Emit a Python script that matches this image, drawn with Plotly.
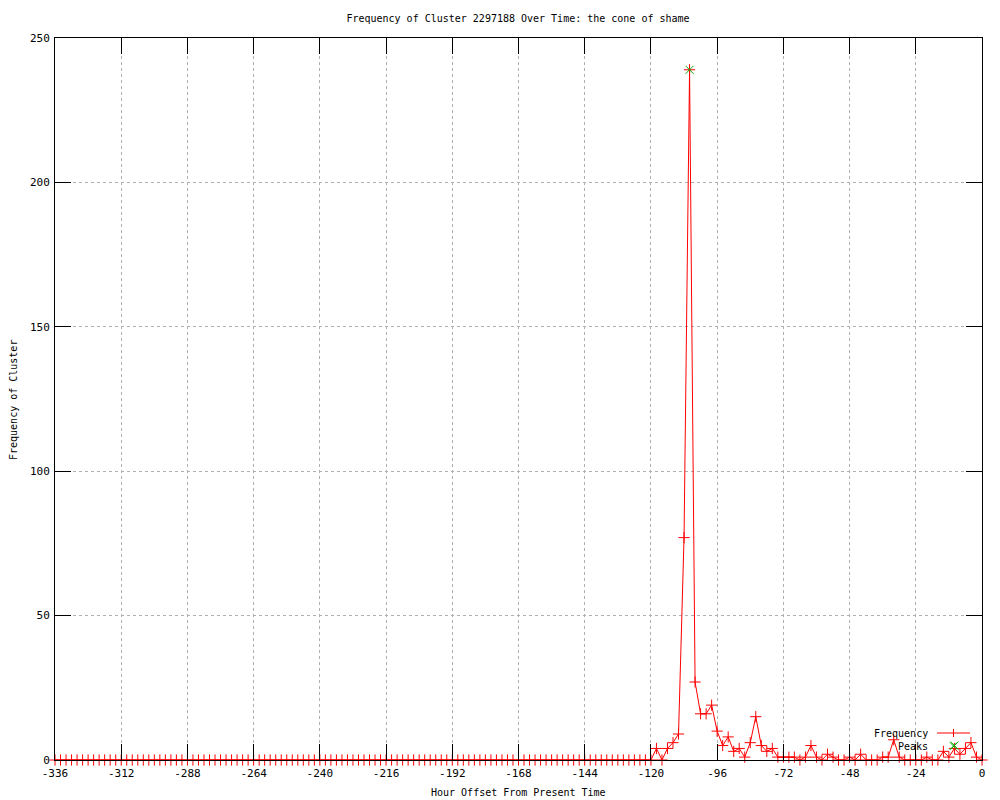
import plotly.graph_objects as go

# ---- data ----
hours = list(range(-336, 1, 2))  # every 2 hours

freq_early = [
    0, 0, 0, 0, 0, 0, 0, 0, 0, 0, 0, 0,   # -336 .. -314
    0, 0, 0, 0, 0, 0, 0, 0, 0, 0, 0, 0,   # -312 .. -290
    0, 0, 0, 0, 0, 0, 0, 0, 0, 0, 0, 0,   # -288 .. -266
    0, 0, 0, 0, 0, 0, 0, 0, 0, 0, 0, 0,   # -264 .. -242
    0, 0, 0, 0, 0, 0, 0, 0, 0, 0, 0, 0,   # -240 .. -218
    0, 0, 0, 0, 0, 0, 0, 0, 0, 0, 0, 0,   # -216 .. -194
    0, 0, 0, 0, 0, 0, 0, 0, 0, 0, 0, 0,   # -192 .. -170
    0, 0, 0, 0, 0, 0, 0, 0, 0, 0, 0, 0,   # -168 .. -146
    0, 0, 0, 0, 0, 0, 0, 0, 0, 0, 0, 0,   # -144 .. -122
]
freq_late = [
    0, 4, 0, 4, 6, 9, 77, 239, 27, 16, 16, 19, 10,   # -120 .. -96
    5, 8, 3, 4, 1, 6, 15, 5, 3, 4, 1, 1,             # -94 .. -72
    1, 1, 0, 1, 5, 1, 0, 2, 1, 0, 0, 1,              # -70 .. -48
    0, 2, 0, 0, 0, 1, 1, 7, 1, 0, 0, 0,              # -46 .. -24
    0, 1, 0, 0, 3, 1, 4, 2, 4, 6, 1, 0,              # -22 .. 0
]
frequency = freq_early + freq_late

peak_hours = [-106, -10]
peak_values = [239, 5]

x_tickvals = [-336, -312, -288, -264, -240, -216, -192, -168, -144, -120, -96, -72, -48, -24, 0]
y_tickvals = [0, 50, 100, 150, 200, 250]

title_text = "Frequency of Cluster 2297188 Over Time: the cone of shame"
x_title = "Hour Offset From Present Time"
y_title = "Frequency of Cluster"

FONT = "DejaVu Sans Mono"
RED = "#ff0000"
GREEN = "#00b000"

fig = go.Figure()
fig.add_trace(go.Scatter(
    x=hours, y=frequency, mode="lines+markers", name="Frequency",
    line=dict(color=RED, width=1),
    marker=dict(symbol="cross-thin", size=8, color=RED, line=dict(color=RED, width=1)),
    cliponaxis=False, showlegend=False,
))
fig.add_trace(go.Scatter(
    x=peak_hours, y=peak_values, mode="markers", name="Peaks",
    marker=dict(symbol="x-thin", size=8, color=GREEN, line=dict(color=GREEN, width=1)),
    cliponaxis=False, showlegend=False,
))

axis_common = dict(
    showline=True, linecolor="black", linewidth=1, mirror="allticks",
    ticks="inside", ticklen=16, tickcolor="black", tickwidth=1,
    showgrid=True, gridcolor="#b0b0b0", griddash="dot", gridwidth=1,
    zeroline=False,
)

fig.update_xaxes(range=[-336, 0], tickvals=x_tickvals,
                 ticktext=[str(v) for v in x_tickvals], automargin=False,
                 tickfont=dict(family=FONT, size=11, color="black"), ticklabelstandoff=3,
                 **axis_common)
fig.update_yaxes(range=[0, 250], tickvals=y_tickvals,
                 ticktext=[str(v) for v in y_tickvals], automargin=False,
                 tickfont=dict(family=FONT, size=11, color="black"), ticklabelstandoff=2,
                 **axis_common)

# plot area: x 55..982, y 38..760
L, R, T, B = 55, 18, 38, 40
W, H = 1000, 800
pw, ph = W - L - R, H - T - B

def px(xp):
    return (xp - L) / pw

def py(yp):
    return (H - B - yp) / ph

annotations = [
    dict(text=x_title, x=px(518), y=py(792), xref="paper", yref="paper",
         showarrow=False, xanchor="center", yanchor="middle",
         font=dict(family=FONT, size=10, color="black")),
    dict(text=y_title, x=px(13), y=py(400), xref="paper", yref="paper",
         showarrow=False, xanchor="center", yanchor="middle", textangle=-90,
         font=dict(family=FONT, size=10, color="black")),
    dict(text="Frequency", x=px(930), y=py(733), xref="paper", yref="paper",
         showarrow=False, xanchor="right", yanchor="middle",
         font=dict(family=FONT, size=10, color="black")),
    dict(text="Peaks", x=px(930), y=py(746), xref="paper", yref="paper",
         showarrow=False, xanchor="right", yanchor="middle",
         font=dict(family=FONT, size=10, color="black")),
]

shapes = [
    # legend sample: Frequency
    dict(type="line", xref="paper", yref="paper", x0=px(937), x1=px(970), y0=py(733), y1=py(733),
         line=dict(color=RED, width=1)),
    dict(type="line", xref="paper", yref="paper", x0=px(953.5), x1=px(953.5), y0=py(729), y1=py(737),
         line=dict(color=RED, width=1)),
    # legend sample: Peaks
    dict(type="line", xref="paper", yref="paper", x0=px(950), x1=px(957), y0=py(742.5), y1=py(749.5),
         line=dict(color=GREEN, width=1)),
    dict(type="line", xref="paper", yref="paper", x0=px(950), x1=px(957), y0=py(749.5), y1=py(742.5),
         line=dict(color=GREEN, width=1)),
]

fig.update_layout(
    width=W, height=H,
    margin=dict(l=L, r=R, t=T, b=B),
    paper_bgcolor="white", plot_bgcolor="white",
    title=dict(text=title_text, x=px(518), xref="paper", y=1 - 18 / H, yanchor="middle",
               xanchor="center", font=dict(family=FONT, size=10, color="black")),
    annotations=annotations, shapes=shapes, showlegend=False,
)

fig.write_html(
    "out.html",
    config={"displayModeBar": False},
    post_script="document.body.style.margin='0';document.body.style.overflow='hidden';",
)
